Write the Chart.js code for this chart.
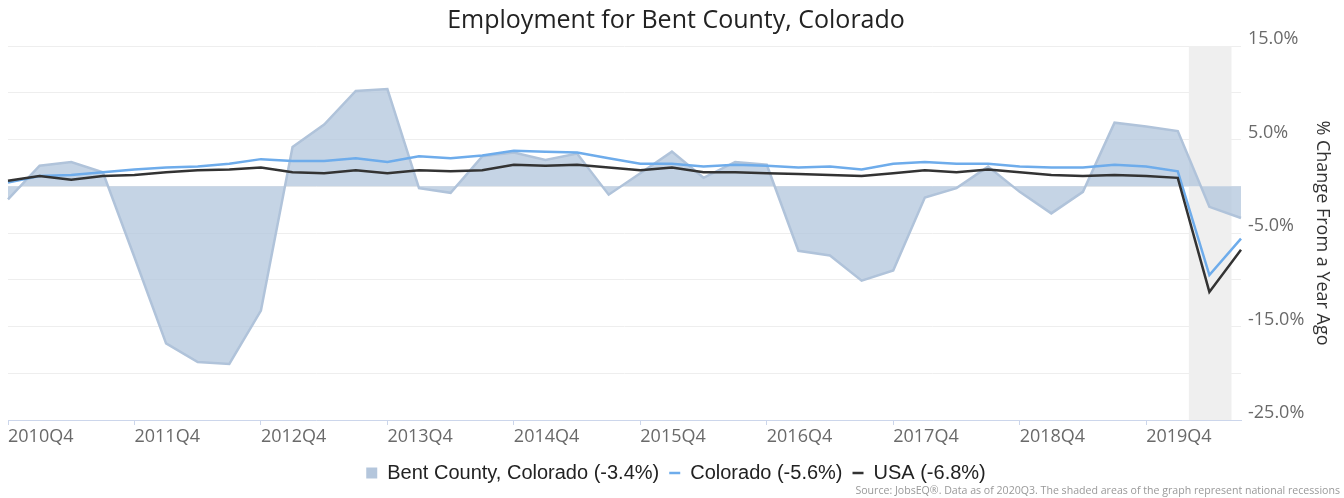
<!DOCTYPE html>
<html>
<head>
<meta charset="utf-8">
<script src="https://cdn.jsdelivr.net/npm/chart.js@4.4.1/dist/chart.umd.min.js"></script>
<style>
  html, body { margin: 0; padding: 0; background: #fff; }
  #wrap { position: relative; width: 1344px; height: 498px; }
  #source {
    position: absolute; right: 4px; bottom: 1px;
    font-family: "Open Sans", sans-serif; font-size: 10.6px; color: #999;
    white-space: nowrap;
  }
</style>
</head>
<body>
<div id="wrap">
  <canvas id="myChart" width="1344" height="498"></canvas>
  <div id="source">Source: JobsEQ®. Data as of 2020Q3. The shaded areas of the graph represent national recessions</div>
</div>
<script>
// quarters shown on the x axis
const quarters = [
  '2010Q4', '2011Q1', '2011Q2', '2011Q3', '2011Q4', '2012Q1', '2012Q2', '2012Q3',
  '2012Q4', '2013Q1', '2013Q2', '2013Q3', '2013Q4', '2014Q1', '2014Q2', '2014Q3',
  '2014Q4', '2015Q1', '2015Q2', '2015Q3', '2015Q4', '2016Q1', '2016Q2', '2016Q3',
  '2016Q4', '2017Q1', '2017Q2', '2017Q3', '2017Q4', '2018Q1', '2018Q2', '2018Q3',
  '2018Q4', '2019Q1', '2019Q2', '2019Q3', '2019Q4', '2020Q1', '2020Q2', '2020Q3'
];

// % change from a year ago
const bentCounty = [
  -1.4, 2.2, 2.6, 1.5, -7.6, -16.8, -18.8, -19.0,
  -13.3, 4.2, 6.6, 10.2, 10.4, -0.2, -0.7, 3.2,
  3.6, 2.8, 3.5, -0.9, 1.4, 3.7, 0.9, 2.6,
  2.3, -6.9, -7.4, -10.1, -9.0, -1.2, -0.2, 2.1,
  -0.6, -2.9, -0.6, 6.8, 6.4, 5.9, -2.2, -3.4
];
const colorado = [
  0.4, 1.1, 1.2, 1.5, 1.8, 2.0, 2.1, 2.4,
  2.9, 2.7, 2.7, 3.0, 2.6, 3.2, 3.0, 3.3,
  3.8, 3.7, 3.6, 3.0, 2.4, 2.4, 2.1, 2.3,
  2.2, 2.0, 2.1, 1.8, 2.4, 2.6, 2.4, 2.4,
  2.1, 2.0, 2.0, 2.3, 2.1, 1.6, -9.5, -5.6
];
const usa = [
  0.6, 1.1, 0.7, 1.1, 1.2, 1.5, 1.7, 1.8,
  2.0, 1.5, 1.4, 1.7, 1.4, 1.7, 1.6, 1.7,
  2.3, 2.2, 2.3, 2.0, 1.7, 2.0, 1.5, 1.5,
  1.4, 1.3, 1.2, 1.1, 1.4, 1.7, 1.5, 1.8,
  1.5, 1.2, 1.1, 1.2, 1.1, 0.9, -11.3, -6.8
];

const seriesLabels = ['Bent County, Colorado (-3.4%)', 'Colorado (-5.6%)', 'USA (-6.8%)'];
const yTicks = [-25, -20, -15, -10, -5, 0, 5, 10, 15];
const yLabelled = [-25, -15, -5, 5, 15];
// national recession, in quarter index units
const recession = [37.35, 38.7];

const recessionBand = {
  id: 'recessionBand',
  beforeDatasetsDraw(chart) {
    const { ctx, chartArea, scales } = chart;
    const x0 = scales.x.getPixelForValue(recession[0]);
    const x1 = scales.x.getPixelForValue(recession[1]);
    ctx.save();
    ctx.fillStyle = '#efefef';
    ctx.fillRect(x0, chartArea.top, x1 - x0, chartArea.bottom - chartArea.top);
    ctx.restore();
  }
};

const ctx = document.getElementById('myChart');
new Chart(ctx, {
  type: 'line',
  data: {
    labels: quarters,
    datasets: [{
      label: seriesLabels[0],
      data: bentCounty,
      fill: 'origin',
      backgroundColor: 'rgba(178, 197, 220, 0.75)',
      borderColor: '#b0c3da',
      borderWidth: 2.5,
      pointRadius: 0,
      pointStyle: 'rect',
      tension: 0,
      order: 3
    }, {
      label: seriesLabels[1],
      data: colorado,
      fill: false,
      borderColor: '#6eaceb',
      backgroundColor: '#6eaceb',
      borderWidth: 2.5,
      pointRadius: 0,
      pointStyle: 'line',
      tension: 0,
      order: 2
    }, {
      label: seriesLabels[2],
      data: usa,
      fill: false,
      borderColor: '#333333',
      backgroundColor: '#333333',
      borderWidth: 2.5,
      pointRadius: 0,
      pointStyle: 'line',
      tension: 0,
      order: 1
    }]
  },
  options: {
    responsive: false,
    animation: false,
    layout: { padding: { left: 8, right: 0, top: 0, bottom: 5 } },
    plugins: {
      title: {
        display: true,
        text: 'Employment for Bent County, Colorado',
        color: '#222',
        font: { family: 'Open Sans', size: 25, weight: 'normal' },
        padding: { top: 6, bottom: 10 }
      },
      legend: {
        position: 'bottom',
        labels: {
          usePointStyle: true,
          pointStyleWidth: 11,
          boxHeight: 11,
          boxWidth: 11,
          padding: 10,
          color: '#222',
          font: { family: 'Liberation Sans', size: 20 },
          sort: (a, b) => a.datasetIndex - b.datasetIndex,
          generateLabels(chart) {
            const items = Chart.defaults.plugins.legend.labels.generateLabels(chart);
            items.forEach(it => {
              if (it.datasetIndex === 0) {
                it.fillStyle = '#b4c6dc';
                it.strokeStyle = '#b4c6dc';
                it.lineWidth = 0;
              }
            });
            return items;
          }
        }
      },
      tooltip: { enabled: false }
    },
    scales: {
      x: {
        type: 'category',
        offset: false,
        afterFit(scale) { scale.height = 33; },
        border: { display: true, color: '#ccd6eb', width: 1 },
        grid: {
          drawOnChartArea: false,
          drawTicks: true,
          tickLength: 5,
          color: c => (c.index % 4 === 0 ? '#ccd6eb' : 'rgba(0,0,0,0)')
        },
        ticks: {
          autoSkip: false,
          maxRotation: 0,
          align: 'start',
          padding: 1,
          color: '#6a6a6a',
          font: { family: 'Open Sans', size: 18 },
          callback: function (val, idx) { return idx % 4 === 0 ? this.getLabelForValue(val) : ''; }
        }
      },
      y: {
        position: 'right',
        min: -25,
        max: 15,
        afterFit(scale) { scale.width = 103; },
        afterBuildTicks(scale) { scale.ticks = yTicks.map(v => ({ value: v })); },
        border: { display: false },
        grid: { color: '#eeeeee', drawTicks: false, lineWidth: 1 },
        ticks: {
          padding: 7,
          labelOffset: -7,
          color: '#6a6a6a',
          font: { family: 'Open Sans', size: 18 },
          callback: v => (yLabelled.includes(v) ? v.toFixed(1) + '%' : '')
        },
        title: {
          display: true,
          text: '% Change From a Year Ago',
          color: '#333',
          font: { family: 'Open Sans', size: 18 },
          padding: { top: 11, bottom: 0 }
        }
      }
    }
  },
  plugins: [recessionBand]
});
</script>
</body>
</html>
